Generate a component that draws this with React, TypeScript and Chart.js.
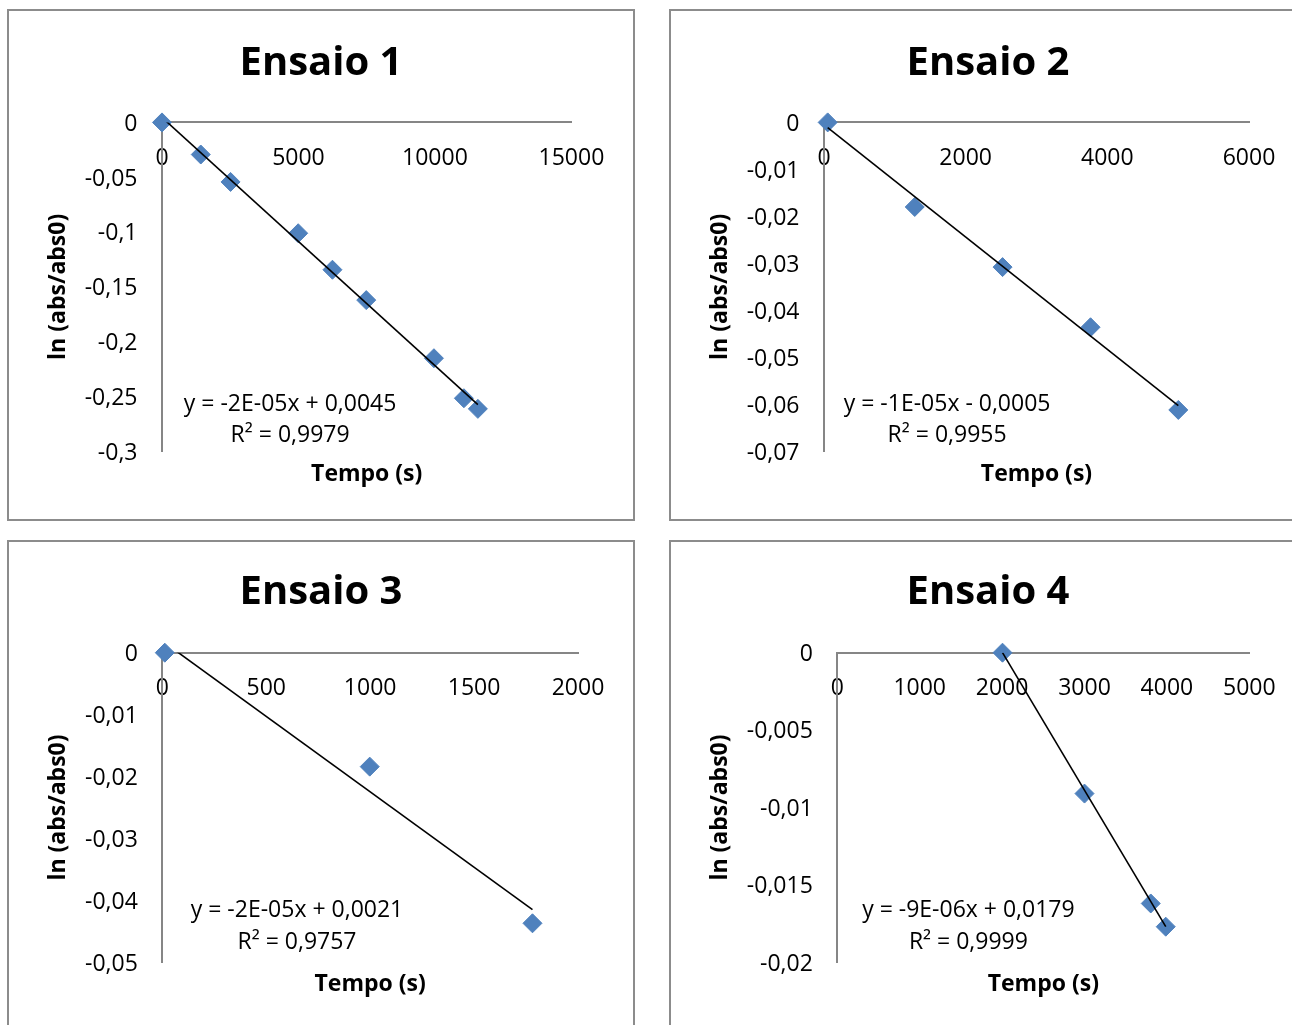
import React, { useEffect, useRef } from "react";
import { Chart, registerables } from "chart.js";

Chart.register(...registerables);
Chart.defaults.font.family = "'Open Sans', 'DejaVu Sans', sans-serif";

// ---------- DATA ----------
const ensaio1Tempo = [0, 1420, 2512, 4990, 6245, 7483, 9963, 11061, 11573];
const ensaio1Ln = [0, -0.0293, -0.0543, -0.1011, -0.1344, -0.1621, -0.2151, -0.2516, -0.2613];
const ensaio1TrendX = [0, 11573];
const ensaio1TrendY = [0.0045, -0.2574];
const ensaio1XTicks = [0, 5000, 10000, 15000];
const ensaio1YTicks = [0, -0.05, -0.1, -0.15, -0.2, -0.25, -0.3];
const ensaio1Eq = ["y = -2E-05x + 0,0045", "R² = 0,9979"];

const ensaio2Tempo = [52, 1281, 2521, 3763, 5002];
const ensaio2Ln = [0, -0.018, -0.0308, -0.0436, -0.0612];
const ensaio2TrendX = [52, 5002];
const ensaio2TrendY = [-0.0011, -0.0603];
const ensaio2XTicks = [0, 2000, 4000, 6000];
const ensaio2YTicks = [0, -0.01, -0.02, -0.03, -0.04, -0.05, -0.06, -0.07];
const ensaio2Eq = ["y = -1E-05x - 0,0005", "R² = 0,9955"];

const ensaio3Tempo = [12, 998, 1781];
const ensaio3Ln = [0, -0.0184, -0.0437];
const ensaio3TrendX = [12, 1781];
const ensaio3TrendY = [0.0016, -0.0415];
const ensaio3XTicks = [0, 500, 1000, 1500, 2000];
const ensaio3YTicks = [0, -0.01, -0.02, -0.03, -0.04, -0.05];
const ensaio3Eq = ["y = -2E-05x + 0,0021", "R² = 0,9757"];

const ensaio4Tempo = [2005, 3000, 3804, 3986];
const ensaio4Ln = [0, -0.0091, -0.0162, -0.0177];
const ensaio4TrendX = [2005, 3986];
const ensaio4TrendY = [0, -0.0177];
const ensaio4XTicks = [0, 1000, 2000, 3000, 4000, 5000];
const ensaio4YTicks = [0, -0.005, -0.01, -0.015, -0.02];
const ensaio4Eq = ["y = -9E-06x + 0,0179", "R² = 0,9999"];

const xTitle = "Tempo (s)";
const yTitle = "ln (abs/abs0)";

// ---------- LAYOUT / STYLE ----------
const MARKER = "#4F81BD";
const AXIS = "#868686";
const TEXT_SHIFT = 1.8;

type PanelCfg = {
  title: string;
  xs: number[]; ys: number[]; tx: number[]; ty: number[];
  xTicks: number[]; yTicks: number[]; eq: string[];
  left: number; top: number; w: number; h: number;
  areaLeft: number; padSide: number; padBottom: number;
  titlePad: [number, number]; xTitlePad: number;
  eqX: number; eqY: number[];
};

const panels: PanelCfg[] = [
  {
    title: "Ensaio 1", xs: ensaio1Tempo, ys: ensaio1Ln, tx: ensaio1TrendX, ty: ensaio1TrendY,
    xTicks: ensaio1XTicks, yTicks: ensaio1YTicks, eq: ensaio1Eq,
    left: 7, top: 9, w: 628, h: 512, areaLeft: 155, padSide: 63.6, padBottom: 34.1,
    titlePad: [30.3, 35.1], xTitlePad: 8.0, eqX: 283.1, eqY: [393.8, 425.1],
  },
  {
    title: "Ensaio 2", xs: ensaio2Tempo, ys: ensaio2Ln, tx: ensaio2TrendX, ty: ensaio2TrendY,
    xTicks: ensaio2XTicks, yTicks: ensaio2YTicks, eq: ensaio2Eq,
    left: 669, top: 9, w: 638, h: 512, areaLeft: 155, padSide: 58, padBottom: 34.1,
    titlePad: [30.3, 35.1], xTitlePad: 8.0, eqX: 278.1, eqY: [393.8, 425.1],
  },
  {
    title: "Ensaio 3", xs: ensaio3Tempo, ys: ensaio3Ln, tx: ensaio3TrendX, ty: ensaio3TrendY,
    xTicks: ensaio3XTicks, yTicks: ensaio3YTicks, eq: ensaio3Eq,
    left: 7, top: 540, w: 628, h: 512, areaLeft: 155.3, padSide: 57, padBottom: 55.3,
    titlePad: [29.1, 35.6], xTitlePad: 6.8, eqX: 290, eqY: [368.5, 401],
  },
  {
    title: "Ensaio 4", xs: ensaio4Tempo, ys: ensaio4Ln, tx: ensaio4TrendX, ty: ensaio4TrendY,
    xTicks: ensaio4XTicks, yTicks: ensaio4YTicks, eq: ensaio4Eq,
    left: 669, top: 540, w: 638, h: 512, areaLeft: 168.3, padSide: 57.7, padBottom: 55.3,
    titlePad: [29.1, 35.6], xTitlePad: 6.8, eqX: 299.4, eqY: [368.5, 401],
  },
];

function fmtComma(v: number): string {
  const n = Number(Number(v).toPrecision(8));
  return String(n).replace(".", ",");
}

const eqPlugin = {
  id: "eqLabel",
  afterDraw(chart: any, _args: any, opts: any) {
    const ctx = chart.ctx as CanvasRenderingContext2D;
    ctx.save();
    ctx.font = "23px 'Open Sans', 'DejaVu Sans', sans-serif";
    ctx.fillStyle = "#000";
    ctx.textAlign = "center";
    ctx.textBaseline = "middle";
    (opts.lines as string[]).forEach((line, i) => ctx.fillText(line, opts.x, opts.ys[i] + TEXT_SHIFT));
    ctx.restore();
  },
};

function Panel({ cfg }: { cfg: PanelCfg }) {
  const ref = useRef<HTMLCanvasElement>(null);
  useEffect(() => {
    const canvas = ref.current;
    if (!canvas) return;
    const xMin = Math.min(...cfg.xTicks), xMax = Math.max(...cfg.xTicks);
    const yMin = Math.min(...cfg.yTicks), yMax = Math.max(...cfg.yTicks);
    const chart = new Chart(canvas, {
      type: "scatter",
      data: {
        datasets: [
          {
            label: "trend",
            data: cfg.tx.map((x, i) => ({ x, y: cfg.ty[i] })),
            showLine: true,
            borderColor: "#000",
            borderWidth: 1.6,
            pointRadius: 0,
            fill: false,
            order: 0,
          } as any,
          {
            label: "ln",
            data: cfg.xs.map((x, i) => ({ x, y: cfg.ys[i] })),
            showLine: false,
            pointStyle: "rectRot",
            pointRadius: 9.5,
            pointBorderWidth: 1,
            pointBackgroundColor: MARKER,
            pointBorderColor: MARKER,
            backgroundColor: MARKER,
            borderColor: MARKER,
            clip: false,
            order: 1,
          } as any,
        ],
      },
      options: {
        animation: false,
        responsive: false,
        devicePixelRatio: 1,
        events: [],
        layout: {
          padding: { left: cfg.padSide, top: 0, right: cfg.padSide, bottom: cfg.padBottom - TEXT_SHIFT },
        },
        plugins: {
          legend: { display: false },
          tooltip: { enabled: false },
          title: {
            display: true,
            text: cfg.title,
            color: "#000",
            font: { size: 40, weight: "bold" },
            padding: { top: cfg.titlePad[0], bottom: cfg.titlePad[1] },
          },
          subtitle: {
            display: true,
            text: xTitle,
            position: "bottom",
            fullSize: false,
            align: "center",
            color: "#000",
            font: { size: 23, weight: "bold" },
            padding: { top: cfg.xTitlePad + TEXT_SHIFT, bottom: 0 },
          },
          eqLabel: { lines: cfg.eq, x: cfg.eqX, ys: cfg.eqY },
        } as any,
        scales: {
          x: {
            type: "linear",
            position: { y: 0 } as any,
            min: xMin,
            max: xMax,
            afterBuildTicks: (s: any) => { s.ticks = cfg.xTicks.map((v) => ({ value: v })); },
            afterFit: (s: any) => { s.height = 0; },
            grid: { display: false, drawTicks: false },
            border: { display: true, color: AXIS, width: 2 },
            ticks: {
              autoSkip: false, maxRotation: 0, minRotation: 0, padding: 20.1 + TEXT_SHIFT,
              color: "#000", font: { size: 23 },
              callback: (v: any) => String(v),
            },
          },
          y: {
            type: "linear",
            position: "left",
            min: yMin,
            max: yMax,
            afterBuildTicks: (s: any) => { s.ticks = [...cfg.yTicks].sort((a, b) => a - b).map((v) => ({ value: v })); },
            afterFit: (s: any) => { s.width = cfg.areaLeft - cfg.padSide; },
            grid: { display: false, drawTicks: false },
            border: { display: true, color: AXIS, width: 2 },
            ticks: {
              autoSkip: false, padding: 24.5, labelOffset: TEXT_SHIFT, color: "#000", font: { size: 23 },
              callback: (v: any) => fmtComma(Number(v)),
            },
            title: {
              display: true,
              text: yTitle,
              color: "#000",
              font: { size: 23, weight: "bold" },
              padding: { top: 37.5 - cfg.padSide, bottom: 0 },
            },
          },
        } as any,
      },
      plugins: [eqPlugin as any],
    });
    let alive = true;
    if ((document as any).fonts && (document as any).fonts.ready) {
      (document as any).fonts.ready.then(() => { if (alive) chart.update(); });
    }
    return () => { alive = false; chart.destroy(); };
  }, [cfg]);

  return (
    <div style={{ position: "absolute", left: cfg.left, top: cfg.top, width: cfg.w, height: cfg.h }}>
      <canvas
        ref={ref}
        width={cfg.w}
        height={cfg.h}
        style={{ position: "absolute", left: 0, top: 0, width: cfg.w, height: cfg.h }}
      />
      <div
        style={{
          position: "absolute", left: 0, top: 0, width: cfg.w, height: cfg.h,
          border: "2px solid #8c8c8c", boxSizing: "border-box", pointerEvents: "none",
        }}
      />
    </div>
  );
}

export default function App() {
  return (
    <div
      style={{
        position: "fixed", left: 0, top: 0, width: 1292, height: 1025,
        overflow: "hidden", background: "#fff",
      }}
    >
      {panels.map((p) => (
        <Panel key={p.title} cfg={p} />
      ))}
    </div>
  );
}
